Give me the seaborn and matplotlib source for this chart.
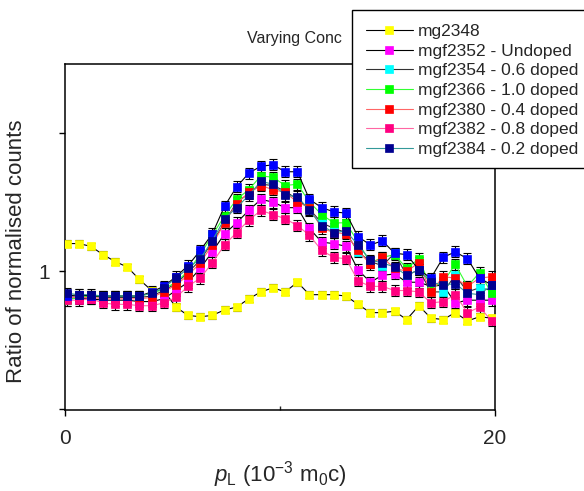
import matplotlib
matplotlib.use("Agg")
import matplotlib.pyplot as plt
import matplotlib.patches as mpatches
import seaborn as sns
import pandas as pd

x = [0.07, 0.64, 1.20, 1.77, 2.33, 2.90, 3.46, 4.03, 4.59, 5.16, 5.72, 6.29,
     6.85, 7.42, 7.98, 8.55, 9.11, 9.68, 10.24, 10.81, 11.37, 11.94, 12.50, 13.07,
     13.63, 14.20, 14.76, 15.33, 15.89, 16.46, 17.02, 17.59, 18.15, 18.72, 19.28, 19.85]

mg2348 = [1.020, 1.020, 1.018, 1.012, 1.007, 1.003, 0.994, 0.986, 0.986, 0.974, 0.968, 0.967,
          0.968, 0.972, 0.974, 0.980, 0.985, 0.988, 0.985, 0.992, 0.983, 0.983, 0.983, 0.982,
          0.976, 0.970, 0.970, 0.971, 0.965, 0.975, 0.966, 0.965, 0.970, 0.964, 0.967, 0.966]
mgf2352 = [0.981, 0.980, 0.980, 0.979, 0.979, 0.979, 0.978, 0.978, 0.980, 0.986, 0.992, 1.002,
           1.014, 1.027, 1.035, 1.044, 1.052, 1.050, 1.046, 1.046, 1.031, 1.021, 1.020, 1.018,
           1.001, 0.992, 0.997, 0.998, 0.992, 0.992, 0.989, 0.990, 0.977, 0.979, 0.979, 0.979]
mgf2354 = [0.982, 0.982, 0.982, 0.981, 0.981, 0.981, 0.981, 0.982, 0.986, 0.991, 0.999, 1.008,
           1.021, 1.035, 1.050, 1.056, 1.063, 1.062, 1.058, 1.052, 1.045, 1.035, 1.031, 1.028,
           1.014, 1.007, 1.004, 1.013, 0.997, 1.001, 0.985, 0.985, 0.997, 0.985, 0.988, 0.986]
mgf2366 = [0.979, 0.981, 0.982, 0.982, 0.982, 0.982, 0.982, 0.984, 0.987, 0.992, 1.000, 1.012,
           1.026, 1.040, 1.052, 1.059, 1.069, 1.068, 1.062, 1.063, 1.050, 1.041, 1.035, 1.035,
           1.021, 1.006, 1.010, 1.012, 1.002, 1.009, 0.988, 0.992, 1.005, 0.989, 0.999, 0.984]
mgf2380 = [0.981, 0.981, 0.981, 0.980, 0.980, 0.980, 0.980, 0.981, 0.985, 0.990, 0.997, 1.006,
           1.019, 1.035, 1.049, 1.057, 1.062, 1.059, 1.057, 1.050, 1.046, 1.031, 1.028, 1.027,
           1.015, 1.005, 1.010, 1.002, 1.000, 1.006, 0.985, 0.996, 0.995, 0.989, 0.995, 0.996]
mgf2382 = [0.979, 0.979, 0.980, 0.977, 0.976, 0.976, 0.975, 0.975, 0.977, 0.981, 0.989, 0.995,
           1.006, 1.019, 1.028, 1.037, 1.044, 1.041, 1.038, 1.033, 1.026, 1.015, 1.010, 1.009,
           0.993, 0.989, 0.989, 0.986, 0.986, 0.985, 0.977, 0.978, 0.983, 0.970, 0.974, 0.964]
mgf2384 = [0.984, 0.983, 0.983, 0.982, 0.982, 0.982, 0.982, 0.984, 0.988, 0.995, 1.002, 1.009,
           1.022, 1.038, 1.046, 1.055, 1.065, 1.063, 1.055, 1.054, 1.044, 1.033, 1.028, 1.029,
           1.019, 1.008, 1.006, 1.003, 0.997, 1.001, 0.992, 0.990, 0.991, 0.984, 0.983, 0.990]
extra_blue = [0.982, 0.983, 0.982, 0.982, 0.982, 0.982, 0.982, 0.985, 0.989, 0.996, 1.004, 1.015,
              1.027, 1.047, 1.061, 1.071, 1.076, 1.077, 1.072, 1.072, 1.052, 1.046, 1.043, 1.042,
              1.025, 1.019, 1.022, 1.013, 1.012, 1.001, 0.995, 1.010, 1.014, 1.009, 0.995, 0.990]

labels = ["mg2348", "mgf2352 - Undoped", "mgf2354 - 0.6 doped", "mgf2366 - 1.0 doped",
          "mgf2380 - 0.4 doped", "mgf2382 - 0.8 doped", "mgf2384 - 0.2 doped"]
series = [mg2348, mgf2352, mgf2354, mgf2366, mgf2380, mgf2382, extra_blue, mgf2384]
errors = [0.0025, 0.004, 0.004, 0.004, 0.004, 0.004, 0.004, 0.004]

marker_colors = ["#ffff00", "#ff00ff", "#00ffff", "#00ff00", "#ff0000", "#ff0080", "#0000ff", "#000090"]
line_colors = ["#000000", "#000000", "#333333", "#33ff33", "#ff6666", "#ff66a3", "#000000", "#339999"]
order_labels = labels[:6] + ["_nolegend_", labels[6]]

sns.set_style("ticks")
plt.rcParams["font.family"] = ["Liberation Sans", "DejaVu Sans"]
plt.rcParams["mathtext.fontset"] = "custom"
plt.rcParams["mathtext.rm"] = "Liberation Sans"
plt.rcParams["mathtext.it"] = "Liberation Sans:italic"

fig = plt.figure(figsize=(5.84, 4.91), dpi=100)
ax = fig.add_axes([65 / 584, 1 - 410 / 491, 430 / 584, 346 / 491])

for ys, lab, mc, lc, er in zip(series, order_labels, marker_colors, line_colors, errors):
    df = pd.DataFrame({"x": x, "y": ys})
    ax.errorbar(df["x"], df["y"], yerr=er, fmt="none", ecolor="black",
                elinewidth=0.8, capsize=2.8, capthick=0.8, zorder=2)
    sns.lineplot(data=df, x="x", y="y", ax=ax, color=lc, lw=0.8, marker="s",
                 markersize=5.3, markerfacecolor=mc, markeredgecolor=mc,
                 markeredgewidth=0.5, label=lab, zorder=3, legend=False)

ax.set_xlim(0, 20)
ax.set_ylim(0.8995, 1.150)
ax.set_xticks([0, 20])
ax.set_xticklabels(["0", "20"])
ax.set_xticks([10], minor=True)
ax.set_yticks([0.9, 1.0, 1.1])
ax.set_yticklabels(["", "1", ""])
ax.tick_params(axis="both", which="major", direction="out", length=4.5, width=1,
               labelsize=15, color="black", pad=6)
ax.tick_params(axis="x", which="major", pad=9)
ax.tick_params(axis="x", which="minor", direction="in", length=3, width=1)
for s in ax.spines.values():
    s.set_color("black")
    s.set_linewidth(1.1)

ax.set_ylabel("Ratio of normalised counts", fontsize=16)
ax.yaxis.set_label_coords(-0.088, 0.46)
ax.set_xlabel(r"$\mathit{p}_{\mathrm{L}}$ (10$^{\mathrm{-3}}$ m$_{\mathrm{0}}$c)", fontsize=16, labelpad=8)

fig.text(294 / 584, 1 - 38 / 491, "Varying Conc", ha="center", va="center", fontsize=11.5)

# legend frame extending past the right edge of the figure
frame = mpatches.Rectangle((352 / 584, 1 - 168 / 491), 0.5, 158 / 491,
                           transform=fig.transFigure, facecolor="white",
                           edgecolor="black", linewidth=1.0, zorder=4, clip_on=False)
fig.patches.append(frame)

handles, labs = ax.get_legend_handles_labels()
leg = fig.legend(handles, labs, loc="upper left", bbox_to_anchor=(352 / 584, 1 - 10 / 491),
                 bbox_transform=fig.transFigure, fontsize=12.5, frameon=False,
                 handlelength=2.7, labelspacing=0.26,
                 borderpad=0.8, handletextpad=0.3, borderaxespad=0)
leg.set_zorder(5)

fig.savefig("out.png", dpi=100)
